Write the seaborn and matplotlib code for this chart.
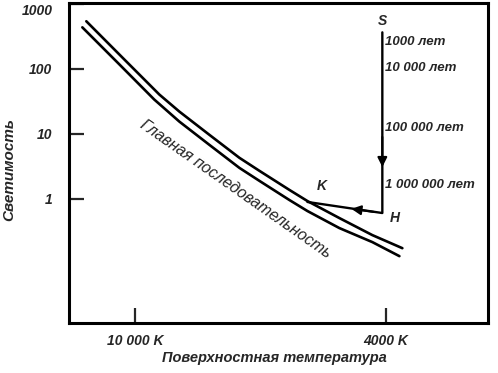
import numpy as np
import pandas as pd
import seaborn as sns
import matplotlib.pyplot as plt
from matplotlib.ticker import NullLocator, FixedLocator, FixedFormatter

# Главная последовательность: две границы полосы (T в K, светимость)
upper_T = [11950, 10400, 9150, 8505, 7624, 6830, 6348, 5690, 5327, 4740, 4201, 3765]
upper_L = [542, 140, 40.4, 22.1, 9.73, 4.30, 2.71, 1.38, 0.93, 0.509, 0.278, 0.175]
lower_T = [12125, 10630, 9320, 8505, 7624, 6830, 6348, 5690, 5327, 4740, 4201, 3806]
lower_L = [437, 122, 33.8, 15.5, 6.82, 3.01, 1.90, 0.965, 0.653, 0.357, 0.217, 0.132]

# трек звезды S -> H -> K
track_names = ['S', 'H', 'K']
track_T = [4051, 4051, 5327]
track_L = [366, 0.608, 0.90]

age_labels = ['1000 лет', '10 000 лет', '100 000 лет', '1 000 000 лет']
age_L = [257, 105, 12.5, 1.64]

y_ticks = [1, 10, 100, 1000]
y_ticklabels = ['1', '10', '100', '1000']
x_ticks = [10000, 4000]
x_ticklabels = ['10 000 K', '4000 K']


def main():
    sns.set_style("ticks")
    plt.rcParams['font.family'] = ['Liberation Sans', 'DejaVu Sans']

    fig = plt.figure(figsize=(4.98, 3.73), dpi=100)
    ax = fig.add_axes([0.1386, 0.134, 0.8414, 0.858])

    up = pd.DataFrame({'T': upper_T, 'L': upper_L})
    lo = pd.DataFrame({'T': lower_T, 'L': lower_L})
    tr = pd.DataFrame({'T': track_T, 'L': track_L})

    sns.lineplot(data=up, x='T', y='L', color='black', lw=1.9, ax=ax)
    sns.lineplot(data=lo, x='T', y='L', color='black', lw=1.9, ax=ax)
    sns.lineplot(data=tr, x='T', y='L', color='black', lw=1.7, sort=False,
                 estimator=None, errorbar=None, ax=ax)

    ax.set_xscale('log')
    ax.set_yscale('log')
    ax.set_xlim(12729, 2753)
    ax.set_ylim(10 ** -1.908, 10 ** 3.015)

    # стрелки на треке
    arr = dict(arrowstyle='-|>', color='black', lw=1.5, mutation_scale=14,
               shrinkA=0, shrinkB=0)
    ax.annotate('', xy=(track_T[0], 3.1), xytext=(track_T[0], 9.0),
                arrowprops=arr)
    def on_hk(f):
        x = track_T[1] + (track_T[2] - track_T[1]) * f
        y = track_L[1] * (track_L[2] / track_L[1]) ** f
        return x, y
    ax.annotate('', xy=on_hk(0.38), xytext=on_hk(0.1), arrowprops=arr)

    # подписи точек
    ax.text(track_T[0], track_L[0] * 1.15, 'S', ha='center', va='bottom',
            fontsize=10, fontstyle='italic', fontweight='bold')
    ax.text(track_T[1] * 0.975, track_L[1] * 0.85, 'H', ha='left', va='center',
            fontsize=10, fontstyle='italic', fontweight='bold')
    ax.text(track_T[2] * 0.95, track_L[2] * 1.75, 'K', ha='center', va='center',
            fontsize=10, fontstyle='italic', fontweight='bold')

    for lab, yv in zip(age_labels, age_L):
        ax.text(track_T[0] * 0.99, yv, lab, ha='left', va='center',
                fontsize=9.5, fontstyle='italic', fontweight='bold')

    ax.text(6930, 1.42, 'Главная последовательность', rotation=-35,
            rotation_mode='anchor', ha='center', va='center',
            fontsize=11.5, fontstyle='italic')

    ax.xaxis.set_minor_locator(NullLocator())
    ax.yaxis.set_minor_locator(NullLocator())
    ax.xaxis.set_major_locator(FixedLocator(x_ticks))
    ax.xaxis.set_major_formatter(FixedFormatter(x_ticklabels))
    ax.yaxis.set_major_locator(FixedLocator(y_ticks))
    ax.yaxis.set_major_formatter(FixedFormatter(y_ticklabels))
    ax.tick_params(direction='in', length=11, width=1.6, labelsize=10)
    ax.tick_params(axis='x', pad=8)
    ax.tick_params(axis='y', pad=12)
    for lab in ax.get_xticklabels() + ax.get_yticklabels():
        lab.set_fontstyle('italic')
        lab.set_fontweight('bold')
    ax.get_yticklabels()[-1].set_va('top')

    for sp in ax.spines.values():
        sp.set_linewidth(2.2)
        sp.set_color('black')

    ax.set_xlabel('Поверхностная температура', fontsize=10.5, fontstyle='italic',
                  fontweight='bold')
    ax.set_ylabel('Светимость', fontsize=11, fontstyle='italic',
                  fontweight='bold')
    ax.xaxis.set_label_coords(0.489, -0.088)
    ax.yaxis.set_label_coords(-0.126, 0.48)

    fig.savefig('out.png', dpi=100)


if __name__ == "__main__":
    main()
